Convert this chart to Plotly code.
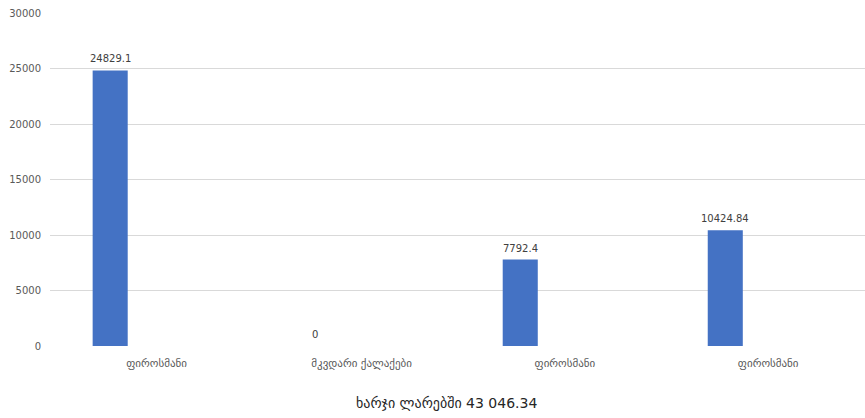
import plotly.graph_objects as go

# Spending per item (GEL)
categories = ["ფიროსმანი", "მკვდარი ქალაქები", "ფიროსმანი ", "ფიროსმანი  "]
values = [24829.1, 0, 7792.4, 10424.84]
value_labels = ["24829.1", "0", "7792.4", "10424.84"]
y_ticks = [0, 5000, 10000, 15000, 20000, 25000, 30000]
total_title = "ხარჯი ლარებში 43 046.34"

BAR_WIDTH = 0.171
BAR_OFFSET = -0.312
SLOT_PX = 815 / 3.975  # pixels per category slot

fig = go.Figure()
fig.add_trace(go.Bar(
    x=categories,
    y=values,
    marker=dict(color="#4472C4", line=dict(width=0)),
    width=BAR_WIDTH,
    offset=BAR_OFFSET,
    hoverinfo="x+y",
))

# value labels above each bar
label_annotations = [
    dict(
        x=cat, y=val, xref="x", yref="y",
        text=lab, showarrow=False,
        xanchor="center", yanchor="bottom",
        xshift=(BAR_OFFSET + BAR_WIDTH / 2) * SLOT_PX,
        yshift=4,
        font=dict(family="DejaVu Sans, Open Sans", size=10, color="#404040"),
    )
    for cat, val, lab in zip(categories, values, value_labels)
]

fig.update_layout(
    width=865,
    height=418,
    margin=dict(l=50, r=0, t=13, b=72),
    paper_bgcolor="white",
    plot_bgcolor="white",
    showlegend=False,
    font=dict(family="DejaVu Sans, Open Sans", color="#595959"),
    xaxis=dict(
        type="category",
        range=[-0.52, 3.455],
        showgrid=False,
        zeroline=False,
        showline=False,
        ticks="",
        tickfont=dict(size=11, color="#595959"),
        ticklabelstandoff=9,
    ),
    yaxis=dict(
        range=[0, 30000],
        tickvals=y_ticks,
        ticktext=[str(v) for v in y_ticks],
        showgrid=True,
        gridcolor="#d9d9d9",
        gridwidth=1,
        zeroline=False,
        showline=False,
        ticks="",
        tickfont=dict(size=10, color="#595959"),
        ticklabelstandoff=8,
    ),
    annotations=label_annotations + [dict(
        text=total_title,
        xref="paper", yref="paper",
        x=(446 - 50) / 815, y=-(403 - 346) / 333,
        xanchor="center", yanchor="middle",
        showarrow=False,
        font=dict(family="DejaVu Sans, Open Sans", size=14, color="#262626"),
    )],
)

fig.write_html("out.html")
